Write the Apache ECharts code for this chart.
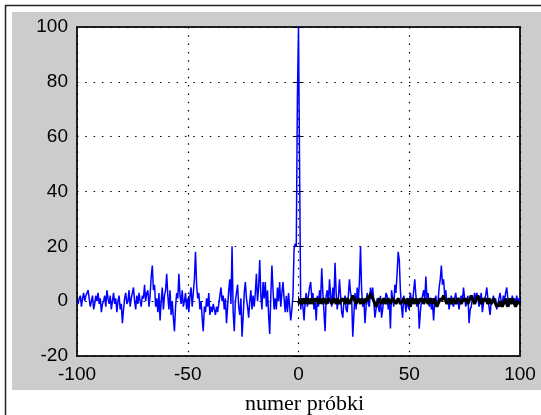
<!DOCTYPE html>
<html>
<head>
<meta charset="utf-8">
<script src="https://cdn.jsdelivr.net/npm/echarts@6/dist/echarts.min.js"></script>
<style>
html,body{margin:0;padding:0;background:#fff;}
#chart{width:541px;height:415px;}
</style>
</head>
<body>
<div id="chart"></div>
<script>
// blue series: samples from -100 to 100, step 0.5
const blueStart = -100;
const blueStep = 0.5;
const blueValues = [
  0,-1,1,2,-2,1,3,0,2,3,
  4,1,-2,0,2,-3,-1,2,0,3,
  -1,1,-4,-1,0,2,-2,4,1,-1,
  2,-3,0,3,-1,1,-4,0,2,-3,
  -1,-8,-3,1,3,-1,0,4,-2,1,
  3,5,0,-3,2,-1,3,0,-2,2,
  1,6,0,3,4,-2,2,9,13,4,
  6,-2,1,-4,3,-7,0,5,-3,2,
  4,10,2,-3,4,-5,0,-6,-11,-2,
  3,1,10,2,-1,4,-2,0,3,-3,
  1,-4,2,5,-2,3,8,18,6,1,
  3,-3,0,-6,-11,-2,-4,1,-2,3,
  -5,-2,-4,-1,-3,-5,-2,-4,-1,2,
  5,0,2,-3,1,-8,-2,4,8,-1,
  20,-4,-11,0,3,6,-2,-5,1,-13,
  -6,3,7,1,-2,-6,0,4,-3,2,
  -2,3,10,0,5,15,2,-3,7,1,
  7,-2,4,-5,-12,2,13,4,-3,1,
  -3,5,0,7,-2,3,7,1,-4,2,
  -4,3,-2,-7,-3,2,19,21,20,74,
  100,48,-3,1,-2,-7,0,3,-2,2,
  5,7,1,3,-3,0,-7,2,-2,4,
  1,12,3,-4,-11,2,4,-1,8,2,
  -2,5,0,14,3,-3,1,8,2,-4,
  -6,0,2,-3,-4,2,8,3,1,-13,
  -5,3,-3,5,0,7,20,4,-2,1,
  -8,-2,3,-1,-2,5,1,5,0,-6,
  -3,1,-2,-4,2,-6,-3,1,-1,3,
  2,-3,0,-10,4,1,-2,6,3,10,
  18,15,4,-2,-6,2,0,-4,1,-2,
  -3,3,0,-1,4,8,2,-2,1,-10,
  -4,0,2,4,0,9,1,3,-2,1,
  -3,-1,-7,0,2,-2,0,5,8,13,
  6,8,2,4,-1,1,-3,0,2,-1,
  -2,1,3,-1,0,-3,1,2,0,5,
  1,-2,0,2,-8,-3,-2,1,0,3,
  0,3,1,-2,0,3,-4,-1,1,2,
  5,1,-2,-5,0,-1,2,0,1,-3,
  -1,1,3,0,-1,2,0,3,5,1,
  -2,1,-1,2,0,1,-1,2,0,1,
  0
];
// black series: samples from 0 to 100, step 0.5
const blackStart = 0;
const blackStep = 0.5;
const blackValues = [
  0,-1,1,-1,0,1,-1,0,1,0,
  -1,1,0,-1,1,0,0,1,-1,0,
  1,-1,0,1,0,-1,0,1,1,0,
  -1,0,1,0,-1,1,0,-1,0,1,
  0,1,-1,0,1,0,-1,0,1,2,
  1,0,-1,0,1,0,-1,1,0,-1,
  0,1,0,2,1,3,2,1,0,-1,
  -2,-1,0,1,0,-1,0,1,0,-1,
  0,1,0,-1,0,1,1,0,-1,0,
  1,0,-1,-1,0,1,0,-1,0,1,
  -1,-2,0,1,0,-1,1,0,-1,0,
  1,0,1,-1,0,1,0,-1,0,1,
  0,-1,1,0,-1,-2,-1,0,1,0,
  1,2,1,0,-1,0,1,0,-1,0,
  1,0,-1,0,1,1,0,-1,0,1,
  0,1,0,-1,0,1,2,1,0,-1,
  0,1,2,1,0,-1,0,1,0,1,
  0,-1,1,0,-1,0,1,0,-1,-2,
  -1,-2,0,-1,-2,-1,0,1,-1,-2,
  0,1,-1,0,1,-1,-2,-1,0,-1,
  0
];
const xTicks = [-100, -50, 0, 50, 100];
const yTicks = [-20, 0, 20, 40, 60, 80, 100];
const xLabel = 'numer próbki';

const bluePairs = blueValues.map((v, i) => [blueStart + i * blueStep, v]);
const blackPairs = blackValues.map((v, i) => [blackStart + i * blackStep, v]);

const chart = echarts.init(document.getElementById('chart'), null, {renderer: 'canvas'});
const dotted = {color: '#000', width: 1.2, type: [1.5, 6.8]};
const tickFont = {color: '#000', fontFamily: 'Liberation Sans', fontSize: 19};

chart.setOption({
  animation: false,
  backgroundColor: '#fff',
  graphic: [
    {type: 'rect', shape: {x: 12, y: 12, width: 529, height: 378}, style: {fill: '#cccccc'}, z: -10},
    {type: 'line', shape: {x1: 5.5, y1: 5, x2: 5.5, y2: 415}, style: {stroke: '#222', lineWidth: 1.5}, z: -10},
    {type: 'line', shape: {x1: 5, y1: 5.5, x2: 541, y2: 5.5}, style: {stroke: '#222', lineWidth: 1.5}, z: -10}
  ],
  grid: {
    left: 77, right: 21, top: 27, bottom: 59,
    containLabel: false, outerBoundsMode: 'none',
    show: true, backgroundColor: '#fff', borderColor: '#222', borderWidth: 2
  },
  xAxis: [{
    type: 'value', min: xTicks[0], max: xTicks[xTicks.length - 1], interval: 50,
    position: 'bottom',
    axisLine: {show: false},
    axisTick: {show: true, inside: true, length: 5, lineStyle: {color: '#000'}},
    axisLabel: Object.assign({margin: 9}, tickFont),
    splitLine: {show: true, lineStyle: dotted},
    name: xLabel, nameLocation: 'middle', nameGap: 37,
    nameTextStyle: {color: '#000', fontFamily: 'Liberation Serif', fontSize: 22, padding: [0, 0, 0, 12]}
  }, {
    type: 'value', min: -100, max: 100, interval: 50, position: 'top',
    axisLine: {show: false},
    axisTick: {show: true, inside: true, length: 5, lineStyle: {color: '#000'}},
    axisLabel: {show: false}, splitLine: {show: false}
  }],
  yAxis: [{
    type: 'value', min: yTicks[0], max: yTicks[yTicks.length - 1], interval: 20,
    position: 'left',
    axisLine: {show: false},
    axisTick: {show: true, inside: true, length: 5, lineStyle: {color: '#000'}},
    axisLabel: Object.assign({margin: 9}, tickFont),
    splitLine: {show: true, lineStyle: dotted}
  }, {
    type: 'value', min: -20, max: 100, interval: 20, position: 'right',
    axisLine: {show: false},
    axisTick: {show: true, inside: true, length: 5, lineStyle: {color: '#000'}},
    axisLabel: {show: false}, splitLine: {show: false}
  }],
  series: [{
    type: 'line', data: bluePairs, showSymbol: false, symbol: 'none',
    lineStyle: {color: '#0000ff', width: 1.5}, z: 2
  }, {
    type: 'line', data: blackPairs, showSymbol: false, symbol: 'none',
    lineStyle: {color: '#000', width: 3}, z: 3
  }]
});
</script>
</body>
</html>
